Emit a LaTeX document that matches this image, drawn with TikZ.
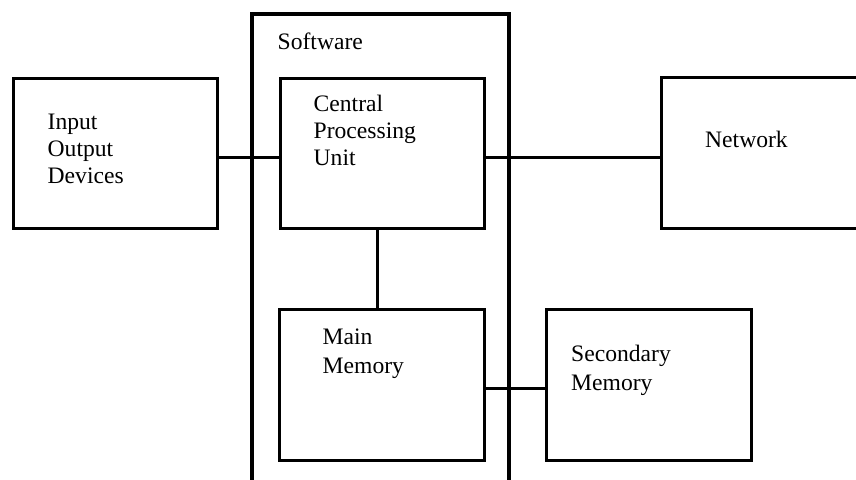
\documentclass[tikz,border=0pt]{standalone}
\usepackage{fontspec}
\setmainfont{Liberation Serif}
\begin{document}
\begin{tikzpicture}[x=1pt,y=-1pt,
  blk/.style={draw, line width=3.2pt, rectangle, inner sep=0pt, anchor=north west},
  lbl/.style={anchor=base west, inner sep=0pt, align=left, font=\fontsize{23.6}{27}\selectfont},
  lblm/.style={lbl, font=\fontsize{23.6}{29.5}\selectfont},
  wire/.style={draw, line width=3.2pt}]
\useasboundingbox (0,0) rectangle (856,479);
\clip (0,0) rectangle (856,479);
% software frame (open bottom)
\coordinate (swbl) at (252,482);
\coordinate (swtl) at (252,14);
\coordinate (swtr) at (509,14);
\coordinate (swbr) at (509,482);
\draw[wire] (swbl) -- (swtl) -- (swtr) -- (swbr);
\node[lbl] (swl) at (277.5,49) {Software};
% boxes
\node[blk, minimum width=204pt, minimum height=150pt] (io) at (12,77) {};
\node[blk, minimum width=204pt, minimum height=150pt] (cpu) at (278.5,77) {};
\node[blk, minimum width=220pt, minimum height=151pt] (net) at (660,76) {};
\node[blk, minimum width=205pt, minimum height=151pt] (mm) at (278,307.5) {};
\node[blk, minimum width=205pt, minimum height=151pt] (sec) at (545,307.5) {};
% labels (base anchor = baseline of last line)
\node[lbl] (iol) at (47.5,183) {Input\\Output\\Devices};
\node[lbl] (cpul) at (313.5,165) {Central\\Processing\\Unit};
\node[lbl] (netl) at (705,147.3) {Network};
\node[lblm] (mml) at (322.5,373.5) {Main\\Memory};
\node[lblm] (secl) at (571,390.5) {Secondary\\Memory};
% connectors
\draw[wire] ([yshift=-3.5pt]io.east) -- ([yshift=-3.5pt]io.east -| cpu.west);
\draw[wire] ([yshift=-3.5pt]cpu.east) -- ([yshift=-3.5pt]cpu.east -| net.west);
\draw[wire] ([xshift=-4.5pt]cpu.south) -- ([xshift=-4.5pt]cpu.south |- mm.north);
\draw[wire] ([yshift=-4pt]mm.east) -- ([yshift=-4pt]mm.east -| sec.west);
\end{tikzpicture}
\end{document}
